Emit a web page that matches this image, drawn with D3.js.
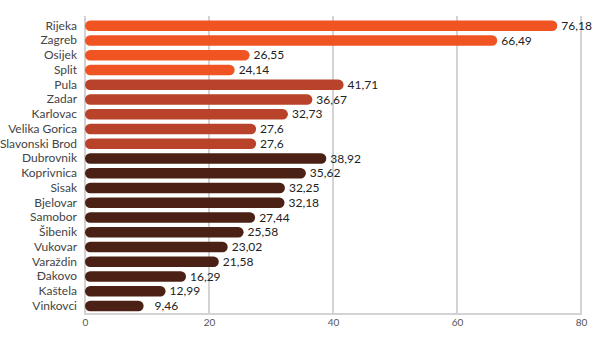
<!DOCTYPE html>
<html><head><meta charset="utf-8">
<script src="https://cdn.jsdelivr.net/npm/d3@7"></script>
<style>
body{margin:0;background:#fff;}
text{font-family:"Source Sans Pro","Lato","Noto Sans",sans-serif;}
</style></head>
<body><svg id="c" width="614" height="342"></svg>
<script>
const cities = ["Rijeka","Zagreb","Osijek","Split","Pula","Zadar","Karlovac","Velika Gorica","Slavonski Brod","Dubrovnik","Koprivnica","Sisak","Bjelovar","Samobor","Šibenik","Vukovar","Varaždin","Đakovo","Kaštela","Vinkovci"];
const values = [76.18,66.49,26.55,24.14,41.71,36.67,32.73,27.6,27.6,38.92,35.62,32.25,32.18,27.44,25.58,23.02,21.58,16.29,12.99,9.46];
const groups = [0,0,0,0,1,1,1,1,1,2,2,2,2,2,2,2,2,2,2,2];
const groupColors = ["#F05423","#B9432A","#4B2115"];
const xTicks = [0,20,40,60,80];

const svg = d3.select("#c");
const gridTop = 16, gridBottom = 314;
const x = d3.scaleLinear().domain([0,80]).range([85, 581]);
const y = d3.scaleBand().domain(cities).range([18.4, 313.4]).paddingInner(0.29).paddingOuter(0.145);

// gridlines
svg.append("g").selectAll("line").data(xTicks).join("line")
  .attr("x1",d=>x(d)).attr("x2",d=>x(d))
  .attr("y1",gridTop).attr("y2",gridBottom)
  .attr("stroke","#d3d3d3").attr("stroke-width",2);
svg.append("line").attr("x1",x(0)-1).attr("x2",x(80)+1)
  .attr("y1",gridBottom).attr("y2",gridBottom)
  .attr("stroke","#d3d3d3").attr("stroke-width",2);

// x axis labels
const xa = svg.append("g").attr("transform",`translate(0,${gridBottom})`)
  .call(d3.axisBottom(x).tickValues(xTicks).tickSize(0).tickPadding(5));
xa.select(".domain").remove();
xa.selectAll("text").attr("fill","#555").attr("font-size",10);

// y axis labels
const ya = svg.append("g").attr("transform",`translate(${x(0)},0)`)
  .call(d3.axisLeft(y).tickSize(0).tickPadding(8));
ya.select(".domain").remove();
ya.selectAll("text").attr("fill","#444").attr("font-size",12);

// bars
const bh = y.bandwidth();
svg.append("g").selectAll("rect").data(cities).join("rect")
  .attr("x",x(0)).attr("y",d=>y(d))
  .attr("width",(d,i)=>x(values[i])-x(0)).attr("height",bh)
  .attr("rx",bh/2).attr("ry",bh/2)
  .attr("fill",(d,i)=>groupColors[groups[i]]);

// value labels
svg.append("g").selectAll("text").data(cities).join("text")
  .attr("x",(d,i)=>x(values[i])+4).attr("y",d=>y(d)+bh/2)
  .attr("dy","0.35em").attr("font-size",12).attr("fill","#222")
  .text((d,i)=>(values[i] < 10 ? "\u2007" : "") + String(values[i]).replace(".",","));
</script></body></html>
